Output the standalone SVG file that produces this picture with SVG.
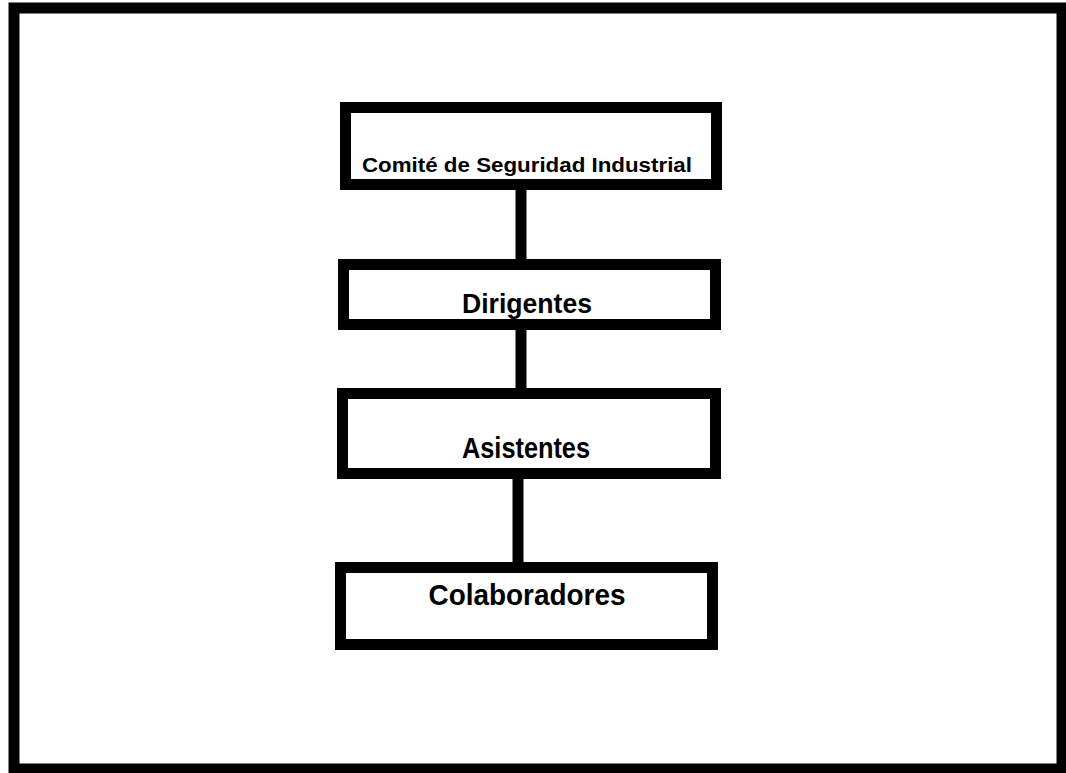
<svg xmlns="http://www.w3.org/2000/svg" width="1066" height="773" viewBox="0 0 1066 773">
<style>
.box{fill:#fff;stroke:#000;stroke-width:11}
.lbl{font-family:"Liberation Sans",Arial,sans-serif;font-weight:bold;fill:#000;text-anchor:middle}
.conn{stroke:#000;stroke-width:11;fill:none}
</style>
<rect x="0" y="0" width="1066" height="773" fill="#fff"/>
<rect x="14" y="8" width="1048" height="761" fill="none" stroke="#000" stroke-width="11"/>
<g id="connectors">
<line class="conn" x1="521" y1="190" x2="521" y2="259"/>
<line class="conn" x1="521" y1="330" x2="521" y2="388"/>
<line class="conn" x1="518" y1="479" x2="518" y2="562"/>
</g>
<g id="n1">
<rect class="box" x="345.5" y="107.5" width="371" height="77"/>
<text class="lbl" x="527" y="172" font-size="20" textLength="330" lengthAdjust="spacingAndGlyphs">Comité de Seguridad Industrial</text>
</g>
<g id="n2">
<rect class="box" x="343.5" y="264.5" width="372" height="60"/>
<text class="lbl" x="527" y="313" font-size="27" textLength="130" lengthAdjust="spacingAndGlyphs">Dirigentes</text>
</g>
<g id="n3">
<rect class="box" x="342.5" y="393.5" width="373" height="80"/>
<text class="lbl" x="526" y="458" font-size="29" textLength="128" lengthAdjust="spacingAndGlyphs">Asistentes</text>
</g>
<g id="n4">
<rect class="box" x="340.5" y="567.5" width="372" height="77"/>
<text class="lbl" x="527" y="605" font-size="30" textLength="197" lengthAdjust="spacingAndGlyphs">Colaboradores</text>
</g>
</svg>
